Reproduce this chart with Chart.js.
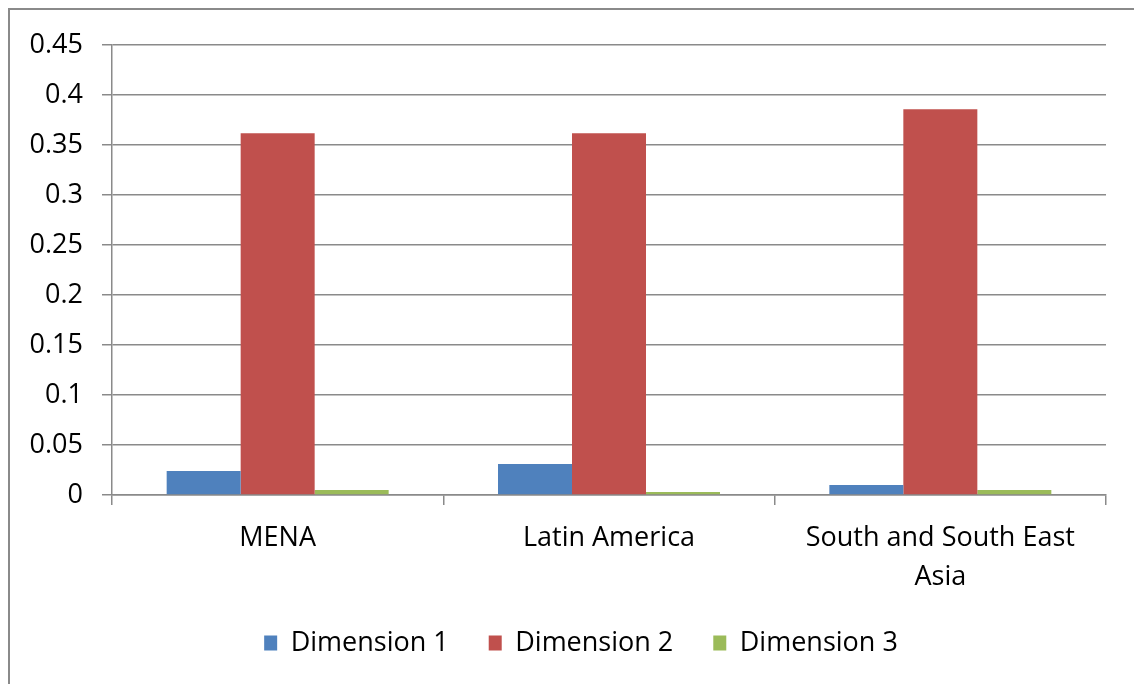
<!DOCTYPE html>
<html>
<head>
<meta charset="utf-8">
<script src="https://cdn.jsdelivr.net/npm/chart.js@4/dist/chart.umd.min.js"></script>
<style>
  html, body { margin: 0; padding: 0; background: #fff; overflow: hidden; width: 1134px; height: 684px; }
  #frame { position: absolute; left: 8px; top: 8px; width: 1160px; height: 720px;
           border-left: 2px solid #8a8a8a; border-top: 2px solid #8a8a8a; }
  #wrap { position: absolute; left: 10px; top: 10px; width: 1142px; height: 700px; }
</style>
</head>
<body>
<div id="frame"></div>
<div id="wrap"><canvas id="chart-area"></canvas></div>
<script>
var categories = ['MENA', 'Latin America', ['South and South East', 'Asia']];
var dimension1 = [0.024, 0.031, 0.010];
var dimension2 = [0.362, 0.362, 0.386];
var dimension3 = [0.005, 0.003, 0.005];
var seriesNames = ['Dimension 1', 'Dimension 2', 'Dimension 3'];

var fontFamily = "'Open Sans', 'Noto Sans', sans-serif";
var gridColor = '#8a8a8a';

var config = {
  type: 'bar',
  data: {
    labels: categories,
    datasets: [
      { label: seriesNames[0], data: dimension1, backgroundColor: '#4F81BD', borderWidth: 0 },
      { label: seriesNames[1], data: dimension2, backgroundColor: '#C0504D', borderWidth: 0 },
      { label: seriesNames[2], data: dimension3, backgroundColor: '#9BBB59', borderWidth: 0 }
    ]
  },
  options: {
    responsive: true,
    maintainAspectRatio: false,
    animation: false,
    devicePixelRatio: 1,
    categoryPercentage: 0.67,
    barPercentage: 1.0,
    layout: { padding: { top: 32, right: 0, left: 0, bottom: 43.5 } },
    plugins: {
      tooltip: { enabled: false },
      legend: {
        position: 'bottom',
        labels: {
          boxWidth: 13,
          boxHeight: 15,
          padding: 40,
          color: '#000',
          font: { family: fontFamily, size: 27 }
        }
      }
    },
    scales: {
      x: {
        grid: { display: true, drawOnChartArea: false, drawTicks: true, tickLength: 10, color: gridColor, lineWidth: 1.5, offset: true },
        border: { display: true, color: gridColor, width: 1.5 },
        ticks: { color: '#000', padding: 14, maxRotation: 0, autoSkip: false, font: { family: fontFamily, size: 27, lineHeight: 1.45 } },
        afterFit: function(s){ s.height = 94.5; }
      },
      y: {
        min: 0,
        max: 0.45,
        grid: { color: gridColor, lineWidth: 1.5, tickLength: 10, drawTicks: true },
        border: { display: true, color: gridColor, width: 1.5 },
        ticks: {
          stepSize: 0.05,
          color: '#000',
          padding: 19,
          font: { family: fontFamily, size: 27 },
          callback: function(v){ return Number(v.toFixed(2)).toString(); }
        },
        afterFit: function(s){ s.width = 102; }
      },
      // empty right-hand space so the legend sits where the original has it
      spacer: {
        type: 'linear',
        position: 'right',
        grid: { display: false },
        border: { display: false },
        ticks: { display: false },
        afterFit: function(s){ s.width = 46; }
      }
    }
  }
};

var ctx = document.getElementById('chart-area').getContext('2d');
var chart = new Chart(ctx, config);
</script>
</body>
</html>
